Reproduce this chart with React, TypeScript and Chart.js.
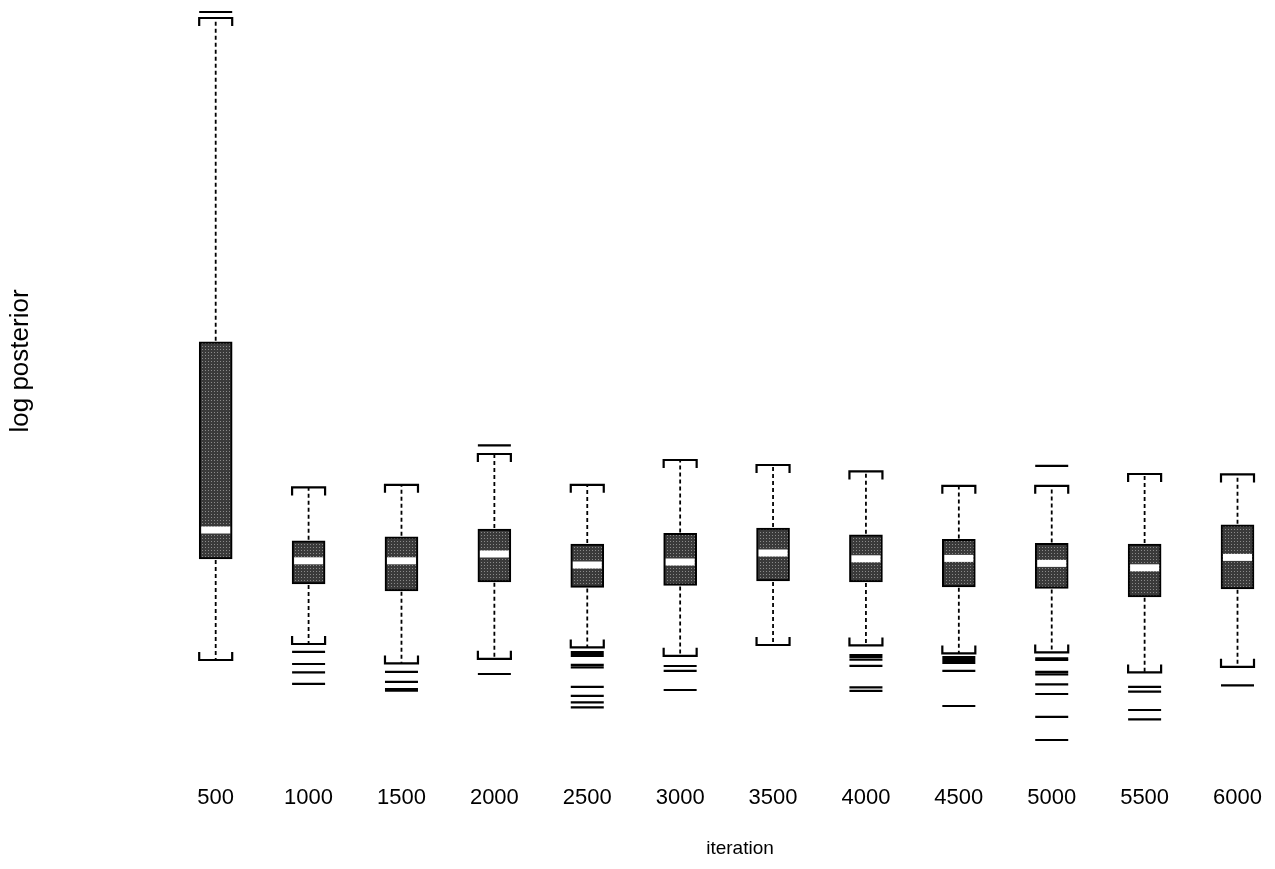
import React, { useEffect, useRef } from "react";
import { Chart, registerables } from "chart.js";

Chart.register(...registerables);

// iteration categories
const ITERATIONS = [500, 1000, 1500, 2000, 2500, 3000, 3500, 4000, 4500, 5000, 5500, 6000];

// box statistics (log posterior, arbitrary units)
const WHISKER_HIGH = [-1009, -1243.7, -1242.4, -1227, -1242.4, -1230, -1232.5, -1235.7, -1242.9, -1242.9, -1237, -1237.2];
const Q3 = [-1170.9, -1270.4, -1268.4, -1264.5, -1272, -1266.7, -1264, -1267.4, -1269.7, -1271.7, -1272, -1262.4];
const MEDIAN = [-1265, -1280.4, -1280.4, -1277, -1282.5, -1281, -1276.5, -1279.4, -1279.2, -1281.7, -1283.9, -1278.7];
const Q1 = [-1279.5, -1292, -1295.4, -1290.9, -1293.7, -1292.7, -1290.5, -1291, -1293.4, -1294.2, -1298.4, -1294.4];
const WHISKER_LOW = [-1330, -1322, -1331.7, -1329.4, -1323.7, -1327.9, -1322.5, -1322.7, -1326.7, -1326.2, -1336.2, -1333.4];

// outliers per iteration
const OUTLIERS: number[][] = [
  [-1006],
  [-1325.9, -1332, -1336.2, -1341.9],
  [-1335.9, -1340.9, -1344.5, -1345.3],
  [-1222.7, -1337],
  [-1326, -1327, -1328, -1332.4, -1333.7, -1343.4, -1347.9, -1351.2, -1353.7],
  [-1333, -1335.4, -1345],
  [],
  [-1327.5, -1328.5, -1329.8, -1332.9, -1343.7, -1345.4],
  [-1328.5, -1329.5, -1330.5, -1331.5, -1335.4, -1353],
  [-1232.9, -1329.2, -1330, -1335.9, -1337.2, -1342.2, -1347, -1358.4, -1370],
  [-1343.4, -1345.8, -1355, -1359.7],
  [-1342.7],
];

const X_TITLE = "iteration";
const Y_TITLE = "log posterior";

const FONT = "'Liberation Sans', Arial, sans-serif";
const BOX_HALF = 16.5;

function makePattern(): CanvasPattern | string {
  const c = document.createElement("canvas");
  c.width = 3;
  c.height = 3;
  const g = c.getContext("2d");
  if (!g) return "#444444";
  g.fillStyle = "#3a3a3a";
  g.fillRect(0, 0, 3, 3);
  g.fillStyle = "#8a8a8a";
  g.fillRect(1, 1, 1, 1);
  const p = g.createPattern(c, "repeat");
  return p || "#444444";
}

const boxParts = {
  id: "boxParts",
  afterDatasetsDraw(chart: any) {
    const { ctx } = chart;
    const x = chart.scales.x;
    const y = chart.scales.y;
    ctx.save();
    ITERATIONS.forEach((it, i) => {
      const cx = x.getPixelForValue(it);
      const yq1 = y.getPixelForValue(Q1[i]);
      const yq3 = y.getPixelForValue(Q3[i]);
      const ylo = y.getPixelForValue(WHISKER_LOW[i]);
      const yhi = y.getPixelForValue(WHISKER_HIGH[i]);
      const ymed = y.getPixelForValue(MEDIAN[i]);
      // dashed whiskers
      ctx.strokeStyle = "#000";
      ctx.lineWidth = 1.8;
      ctx.setLineDash([4, 3]);
      ctx.beginPath();
      ctx.moveTo(cx, yq3 - 1);
      ctx.lineTo(cx, yhi);
      ctx.moveTo(cx, yq1 + 1);
      ctx.lineTo(cx, ylo);
      ctx.stroke();
      ctx.setLineDash([]);
      // caps
      ctx.lineWidth = 2.2;
      ctx.beginPath();
      ctx.moveTo(cx - BOX_HALF, yhi + 8);
      ctx.lineTo(cx - BOX_HALF, yhi);
      ctx.lineTo(cx + BOX_HALF, yhi);
      ctx.lineTo(cx + BOX_HALF, yhi + 8);
      ctx.moveTo(cx - BOX_HALF, ylo - 8);
      ctx.lineTo(cx - BOX_HALF, ylo);
      ctx.lineTo(cx + BOX_HALF, ylo);
      ctx.lineTo(cx + BOX_HALF, ylo - 8);
      ctx.stroke();
      // median
      ctx.fillStyle = "#ffffff";
      ctx.fillRect(cx - 14.5, ymed - 3.5, 29, 7);
    });
    ctx.restore();
  },
  afterDraw(chart: any) {
    const { ctx } = chart;
    ctx.save();
    ctx.fillStyle = "#000";
    ctx.textAlign = "center";
    ctx.textBaseline = "middle";
    ctx.font = `19px ${FONT}`;
    ctx.fillText(X_TITLE, 740, 849);
    ctx.translate(21, 361);
    ctx.rotate(-Math.PI / 2);
    ctx.font = `26px ${FONT}`;
    ctx.fillText(Y_TITLE, 0, 0);
    ctx.restore();
  },
};

export default function App() {
  const ref = useRef<HTMLCanvasElement | null>(null);

  useEffect(() => {
    if (!ref.current) return;
    const outlierPoints: { x: number; y: number }[] = [];
    ITERATIONS.forEach((it, i) => {
      OUTLIERS[i].forEach((v) => outlierPoints.push({ x: it, y: v }));
    });
    const chart = new Chart(ref.current, {
      type: "bar",
      data: {
        datasets: [
          {
            type: "bar",
            data: ITERATIONS.map((it, i) => ({ x: it, y: [Q1[i], Q3[i]] })) as any,
            backgroundColor: makePattern() as any,
            borderColor: "#000",
            borderWidth: 2,
            borderSkipped: false,
            barThickness: 33,
            grouped: false,
          } as any,
          {
            type: "scatter",
            data: outlierPoints,
            pointStyle: "line",
            pointRadius: 16.5,
            borderColor: "#000",
            borderWidth: 2.2,
            showLine: false,
            clip: false,
          } as any,
        ],
      },
      options: {
        animation: false,
        responsive: true,
        maintainAspectRatio: false,
        events: [],
        layout: { autoPadding: false, padding: { left: 0, right: 10, top: 0, bottom: 0 } },
        plugins: { legend: { display: false }, tooltip: { enabled: false } },
        scales: {
          x: {
            type: "linear",
            offset: false,
            min: -230.4,
            max: 6148,
            grid: { display: false, drawTicks: false, offset: false },
            border: { display: false },
            afterBuildTicks: (s: any) => {
              s.ticks = ITERATIONS.map((v) => ({ value: v }));
            },
            afterFit: (s: any) => {
              s.height = 109;
              s.paddingLeft = 0;
              s.paddingRight = 0;
            },
            ticks: {
              color: "#000",
              padding: 25,
              maxRotation: 0,
              autoSkip: false,
              font: { family: FONT, size: 22 },
              callback: (v: any) => String(v),
            },
            title: { display: false },
          },
          y: {
            type: "linear",
            min: -1380,
            max: -1000,
            grid: { display: false, drawTicks: false },
            border: { display: false },
            ticks: { display: false },
            afterFit: (s: any) => {
              s.width = 80;
              s.paddingTop = 0;
              s.paddingBottom = 0;
            },
            title: { display: false },
          },
        },
      },
      plugins: [boxParts],
    });
    return () => chart.destroy();
  }, []);

  return (
    <div style={{ position: "fixed", left: 0, top: 0, width: 1275, height: 869, background: "#fff" }}>
      <canvas ref={ref} />
    </div>
  );
}
